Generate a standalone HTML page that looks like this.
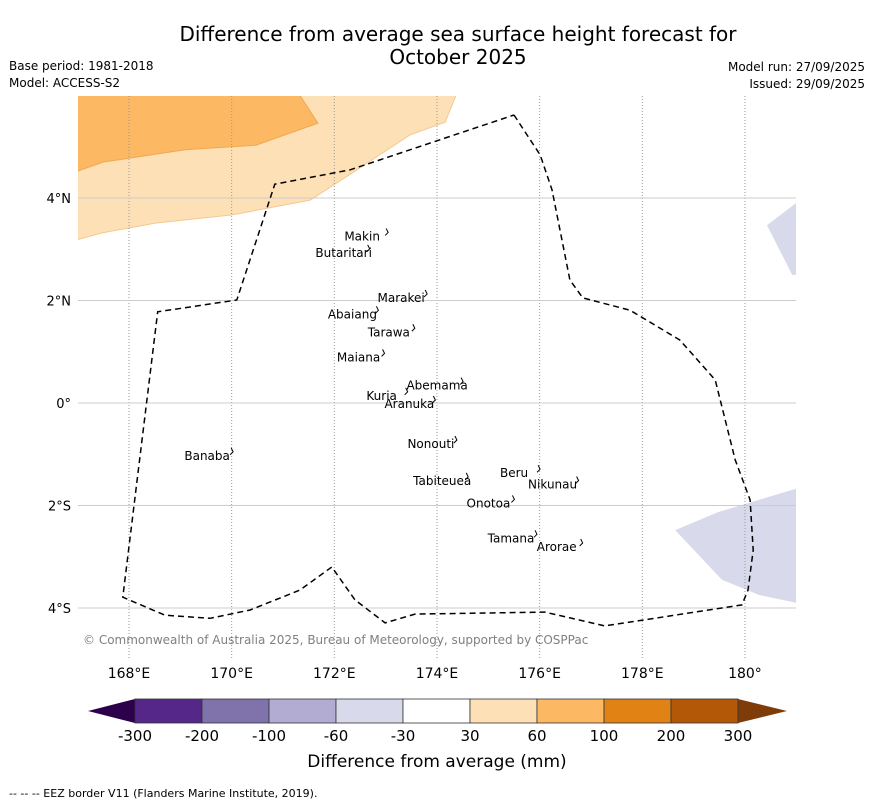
<!DOCTYPE html>
<html><head><meta charset="utf-8">
<style>
body{margin:0;background:#fff;font-family:"Liberation Sans","DejaVu Sans",sans-serif;}
svg{display:block}
text{font-family:"DejaVu Sans","Liberation Sans",sans-serif;}
</style></head>
<body>
<svg id="chart" width="873" height="804" viewBox="0 0 873 804" xmlns="http://www.w3.org/2000/svg">
<rect width="873" height="804" fill="#fff"/>
<text x="458" y="41" font-size="20" text-anchor="middle">Difference from average sea surface height forecast for</text>
<text x="458" y="64" font-size="20" text-anchor="middle">October 2025</text>
<text x="9" y="70" font-size="12">Base period: 1981-2018</text>
<text x="9" y="87" font-size="12">Model: ACCESS-S2</text>
<text x="865" y="71" font-size="12" text-anchor="end">Model run: 27/09/2025</text>
<text x="865" y="88" font-size="12" text-anchor="end">Issued: 29/09/2025</text>
<defs><clipPath id="mapclip"><rect x="78" y="96" width="718" height="562"/></clipPath></defs>
<g id="map" clip-path="url(#mapclip)"></g>
<g id="axes"></g>
<text x="83" y="644" font-size="12" fill="#808080">© Commonwealth of Australia 2025, Bureau of Meteorology, supported by COSPPac</text>
<g id="colorbar"></g>
<text x="437" y="767" font-size="17" text-anchor="middle">Difference from average (mm)</text>
<text x="9" y="797" font-size="11">--  --  -- EEZ border V11 (Flanders Marine Institute, 2019).</text>
</svg>
<script>
const NS="http://www.w3.org/2000/svg";
const lonTicks=[168,170,172,174,176,178,180];
const lonTickLabels=["168°E","170°E","172°E","174°E","176°E","178°E","180°"];
const latTicks=[4,2,0,-2,-4];
const latTickLabels=["4°N","2°N","0°","2°S","4°S"];
const darkOrange=[[166.9,6.1],[171.27,6.1],[171.68,5.46],[170.47,5.03],[169.09,4.94],[167.49,4.70],[166.9,4.49]];
const lightOrange=[[166.9,6.1],[174.41,6.1],[174.16,5.48],[173.47,5.23],[172.50,4.59],[171.53,3.96],[170.01,3.67],[168.51,3.51],[167.49,3.32],[166.9,3.16]];
const purpleNE=[[180.43,3.47],[181.1,3.98],[181.1,2.5],[180.92,2.5]];
const purpleSE=[[178.64,-2.48],[179.47,-2.13],[181.1,-1.64],[181.1,-3.92],[180.29,-3.75],[179.55,-3.45]];
const eez=[[175.50,5.62],[176.01,4.84],[176.24,4.16],[176.59,2.40],[176.84,2.05],[177.76,1.81],[178.73,1.23],[179.42,0.45],[179.81,-1.11],[180.10,-1.89],[180.16,-2.87],[180.06,-3.65],[179.94,-3.94],[177.27,-4.35],[176.10,-4.08],[173.57,-4.12],[172.99,-4.29],[172.40,-3.84],[171.95,-3.20],[171.33,-3.65],[170.36,-4.04],[169.58,-4.20],[168.70,-4.14],[167.88,-3.79],[168.56,1.78],[170.10,2.01],[170.84,4.27],[172.31,4.55],[175.50,5.62]];
const islandNames=["Makin","Butaritari","Marakei","Abaiang","Tarawa","Maiana","Abemama","Kuria","Aranuka","Nonouti","Banaba","Beru","Nikunau","Tabiteuea","Onotoa","Tamana","Arorae"];
const islandLon=[172.62,172.26,173.38,172.43,173.14,172.55,174.08,173.00,173.54,173.96,169.60,175.58,176.33,174.18,175.08,175.52,176.41];
const islandLat=[3.25,2.93,2.05,1.73,1.38,0.89,0.34,0.14,-0.02,-0.80,-1.03,-1.37,-1.59,-1.52,-1.96,-2.64,-2.81];
const cbBounds=["-300","-200","-100","-60","-30","30","60","100","200","300"];
const cbColors=["#542788","#8073ac","#b2abd2","#d8daeb","#ffffff","#fee0b6","#fdb863","#e08214","#b35806"];
const cbUnder="#2d004b", cbOver="#7f3b08";

const X=lon=>129+(lon-168)*51.33;
const Y=lat=>403-lat*51.25;
function el(tag,attrs,parent){const e=document.createElementNS(NS,tag);for(const k in attrs)e.setAttribute(k,attrs[k]);parent.appendChild(e);return e;}
const map=document.getElementById('map');
const axes=document.getElementById('axes');
const pts=a=>a.map(p=>X(p[0]).toFixed(1)+","+Y(p[1]).toFixed(1)).join(" ");
let p;
p=el('polygon',{points:pts(lightOrange),fill:"#fee0b6",stroke:"#f5c890","stroke-width":1},map);


p=el('polygon',{points:pts(darkOrange),fill:"#fdb863",stroke:"#f0a850","stroke-width":1},map);


p=el('polygon',{points:pts(purpleNE),fill:"#d8daeb"},map);


p=el('polygon',{points:pts(purpleSE),fill:"#d8daeb"},map);


lonTicks.forEach((v,i)=>{
  const l=el('line',{x1:X(v),x2:X(v),y1:96,y2:658,stroke:"#999","stroke-width":1,"stroke-dasharray":"1,2"},map);
  
  
  const t=el('text',{x:X(v),y:678,"font-size":14,"text-anchor":"middle"},axes);
  t.textContent=lonTickLabels[i];
  
  
});
latTicks.forEach((v,i)=>{
  const l=el('line',{x1:78,x2:796,y1:Y(v),y2:Y(v),stroke:"#ccc","stroke-width":1},map);
  
  
  const t=el('text',{x:71,y:Y(v)+5,"font-size":13,"text-anchor":"end"},axes);
  t.textContent=latTickLabels[i];
  
  
});
p=el('polyline',{points:pts(eez),fill:"none",stroke:"#000","stroke-width":1.5,"stroke-dasharray":"6,4"},map);


islandNames.forEach((n,i)=>{
  const m=el('path',{d:`M${X(islandLon[i])+20},${Y(islandLat[i])-8} l2,4 l-3,3`,stroke:"#000",fill:"none","stroke-width":1},map);
  
  
  const t=el('text',{x:X(islandLon[i])-4,y:Y(islandLat[i])+4,"font-size":12,"text-anchor":"middle"},map);
  t.textContent=n;
  
  
});
const cb=document.getElementById('colorbar');
const cx0=135,cx1=738,cy=699,ch=24,w=(cx1-cx0)/cbColors.length;
p=el('polygon',{points:`${cx0},${cy} ${cx0},${cy+ch} 88,${cy+ch/2}`,fill:cbUnder},cb);


p=el('polygon',{points:`${cx1},${cy} ${cx1},${cy+ch} 787,${cy+ch/2}`,fill:cbOver},cb);


cbColors.forEach((c,i)=>{
  const r=el('rect',{x:cx0+i*w,y:cy,width:w,height:ch,fill:c,stroke:"#333","stroke-width":0.8},cb);
  
  
});
cbBounds.forEach((b,i)=>{
  const t=el('text',{x:cx0+i*w,y:741,"font-size":15,"text-anchor":"middle"},cb);
  t.textContent=b;
  
  
});
</script>
</body></html>
